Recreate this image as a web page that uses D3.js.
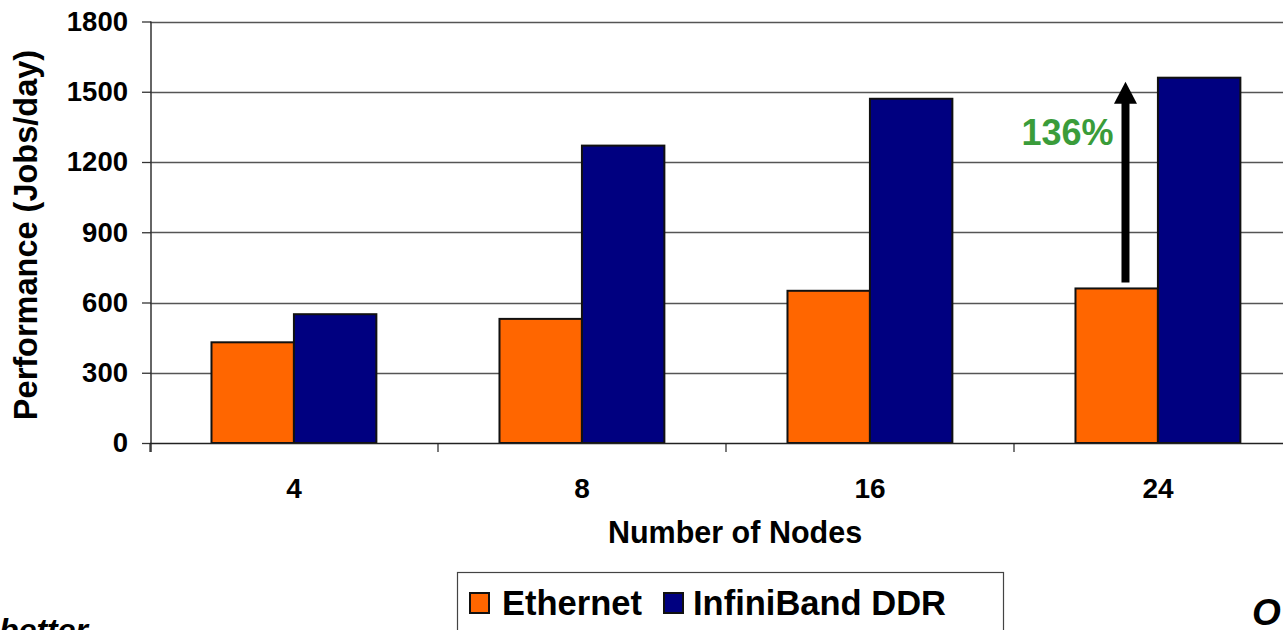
<!DOCTYPE html>
<html>
<head>
<meta charset="utf-8">
<script src="https://cdn.jsdelivr.net/npm/d3@7"></script>
<style>
  html, body { margin: 0; padding: 0; background: #fff; overflow: hidden; }
  svg { display: block; font-family: "Liberation Sans", Arial, Helvetica, sans-serif; font-weight: bold; }
</style>
</head>
<body>
<svg id="chart" width="1283" height="630"></svg>
<script>
// Cluster performance: jobs per day by node count
const nodes = ["4", "8", "16", "24"];
const seriesNames = ["Ethernet", "InfiniBand DDR"];
const ethernet = [430, 530, 650, 660];
const infiniband = [550, 1270, 1470, 1560];
const yTicks = [0, 300, 600, 900, 1200, 1500, 1800];
const gainLabel = "136%";

const colors = { "Ethernet": "#FF6600", "InfiniBand DDR": "#000080" };

const svg = d3.select("#chart");

const plotLeft = 150, plotRight = 1302, plotTop = 21.5, plotBottom = 443;

const x = d3.scaleBand().domain(nodes).range([plotLeft, plotRight]).padding(0);
const bw = x.bandwidth();
const xSub = d3.scaleBand().domain(seriesNames).range([bw * 0.2135, bw * 0.786]).padding(0);
const y = d3.scaleLinear().domain([0, 1800]).range([plotBottom, plotTop]);

// horizontal gridlines
svg.append("g")
  .selectAll("line")
  .data(yTicks.filter(d => d > 0))
  .join("line")
  .attr("x1", plotLeft).attr("x2", 1283)
  .attr("y1", d => Math.round(y(d)) + 0.5).attr("y2", d => Math.round(y(d)) + 0.5)
  .attr("stroke", "#555").attr("stroke-width", 1.4);

// bars
const rows = nodes.map((n, i) => ({ n, values: [
  { s: "Ethernet", v: ethernet[i] },
  { s: "InfiniBand DDR", v: infiniband[i] }
]}));

svg.append("g")
  .selectAll("g")
  .data(rows)
  .join("g")
  .attr("transform", d => `translate(${x(d.n)},0)`)
  .selectAll("rect")
  .data(d => d.values)
  .join("rect")
  .attr("x", d => xSub(d.s))
  .attr("y", d => y(d.v))
  .attr("width", xSub.bandwidth())
  .attr("height", d => y(0) - y(d.v))
  .attr("fill", d => colors[d.s])
  .attr("stroke", "#111")
  .attr("stroke-width", 2);

// y axis
const yAxis = d3.axisLeft(y).tickValues(yTicks).tickFormat(d3.format("d")).tickSize(9).tickPadding(14);
const gy = svg.append("g").attr("transform", `translate(${plotLeft + 1},0)`).call(yAxis);
gy.select(".domain").attr("d", `M0,${plotTop}V${plotBottom + 9}`).attr("stroke", "#333").attr("stroke-width", 1.5);
gy.selectAll(".tick line").attr("stroke", "#333").attr("stroke-width", 1.3);
gy.selectAll(".tick text")
  .attr("font-size", 27.5).attr("font-weight", "bold").attr("fill", "#000")
  .attr("font-family", "Liberation Sans, Arial, sans-serif");

// x axis
const xBounds = nodes.map(n => x(n));
svg.append("line")
  .attr("x1", plotLeft).attr("x2", 1283)
  .attr("y1", plotBottom + 0.5).attr("y2", plotBottom + 0.5)
  .attr("stroke", "#222").attr("stroke-width", 1.5);
svg.append("g")
  .selectAll("line")
  .data(xBounds)
  .join("line")
  .attr("x1", d => d).attr("x2", d => d)
  .attr("y1", plotBottom).attr("y2", plotBottom + 9)
  .attr("stroke", "#222").attr("stroke-width", 1.2);
svg.append("g")
  .selectAll("text")
  .data(nodes)
  .join("text")
  .attr("x", d => x(d) + bw / 2)
  .attr("y", 498)
  .attr("text-anchor", "middle")
  .attr("font-size", 28)
  .text(d => d);

// axis titles
svg.append("text")
  .attr("x", 735)
  .attr("y", 543)
  .attr("text-anchor", "middle")
  .attr("font-size", 30.5)
  .text("Number of Nodes");

svg.append("text")
  .attr("transform", `translate(37,235) rotate(-90)`)
  .attr("text-anchor", "middle")
  .attr("font-size", 32.5)
  .text("Performance (Jobs/day)");

// gain arrow at the largest node count
const last = nodes.length - 1;
const ax = x(nodes[last]) + xSub("Ethernet") + 50;
const yFrom = y(ethernet[last]) - 6;
const yTo = y(infiniband[last]) + 4;
svg.append("line")
  .attr("x1", ax).attr("x2", ax)
  .attr("y1", yFrom).attr("y2", yTo + 20)
  .attr("stroke", "#000").attr("stroke-width", 8);
svg.append("path")
  .attr("d", `M${ax},${yTo}L${ax + 11.5},${yTo + 22}L${ax - 11.5},${yTo + 22}Z`)
  .attr("fill", "#000");
svg.append("text")
  .attr("x", ax - 12)
  .attr("y", 145)
  .attr("text-anchor", "end")
  .attr("font-size", 36)
  .attr("fill", "#3A9C3A")
  .text(gainLabel);

// legend
const lg = svg.append("g");
lg.append("rect")
  .attr("x", 457.5).attr("y", 572.5)
  .attr("width", 546).attr("height", 90)
  .attr("fill", "#fff").attr("stroke", "#444").attr("stroke-width", 1.2);
const legendItems = [
  { s: "Ethernet", sx: 469, tx: 502 },
  { s: "InfiniBand DDR", sx: 663, tx: 693 }
];
lg.selectAll("rect.sw")
  .data(legendItems)
  .join("rect")
  .attr("class", "sw")
  .attr("x", d => d.sx + 1).attr("y", 593)
  .attr("width", 19).attr("height", 20)
  .attr("fill", d => colors[d.s])
  .attr("stroke", "#111").attr("stroke-width", 2);
lg.selectAll("text")
  .data(legendItems)
  .join("text")
  .attr("x", d => d.tx)
  .attr("y", 615)
  .attr("font-size", 34.5)
  .text(d => d.s);

// footnotes along the bottom edge
svg.append("text")
  .attr("x", 88).attr("y", 641)
  .attr("text-anchor", "end")
  .attr("font-size", 32)
  .attr("font-style", "italic")
  .text("Higher is better");
svg.append("text")
  .attr("x", 1252).attr("y", 625)
  .attr("font-size", 37)
  .attr("font-style", "italic")
  .text("O");
</script>
</body>
</html>
